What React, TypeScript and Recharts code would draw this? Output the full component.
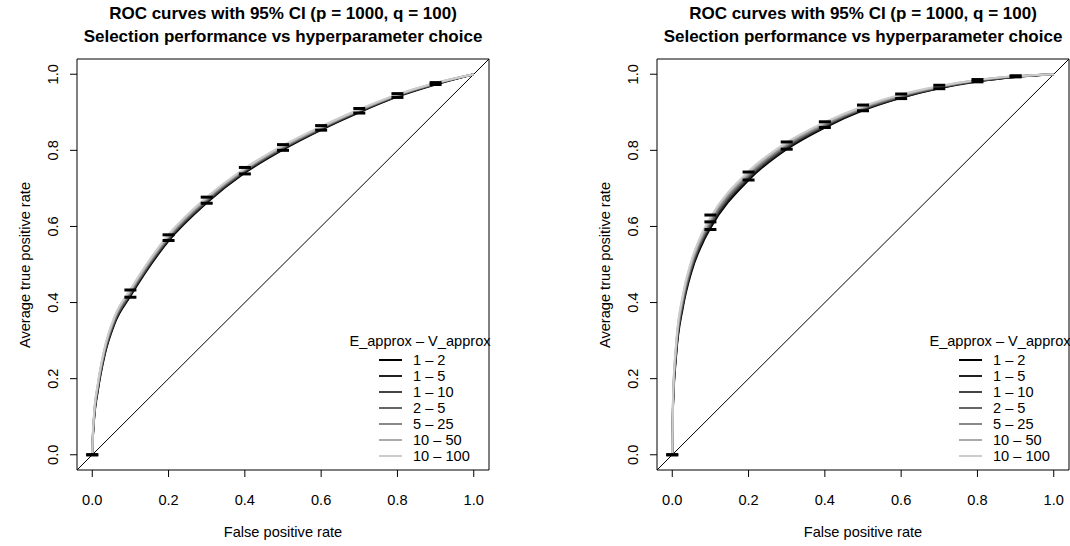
import React from 'react';
import {
  ComposedChart,
  Line,
  Scatter,
  XAxis,
  YAxis,
  ReferenceLine,
  ReferenceArea,
  Legend,
} from 'recharts';

// false positive rate grid for each panel
const fprLeft = [0, 0.001, 0.004, 0.015, 0.032, 0.059, 0.1, 0.2, 0.3, 0.4, 0.5, 0.6, 0.7, 0.8, 0.9, 1];
const fprRight = [0, 0.002, 0.01, 0.028, 0.05, 0.084, 0.1, 0.2, 0.3, 0.4, 0.5, 0.6, 0.7, 0.8, 0.9, 1];

// left panel: average TPR per E_approx - V_approx setting
const left_1_2 = [0, 0.030, 0.082, 0.170, 0.260, 0.346, 0.417, 0.562, 0.662, 0.741, 0.802, 0.854, 0.900, 0.941, 0.973, 1];
const left_1_5 = [0, 0.032, 0.085, 0.173, 0.263, 0.349, 0.420, 0.565, 0.664, 0.743, 0.804, 0.855, 0.901, 0.942, 0.974, 1];
const left_1_10 = [0, 0.034, 0.088, 0.177, 0.267, 0.352, 0.423, 0.568, 0.667, 0.745, 0.806, 0.857, 0.903, 0.943, 0.975, 1];
const left_2_5 = [0, 0.035, 0.090, 0.180, 0.270, 0.355, 0.425, 0.570, 0.669, 0.747, 0.807, 0.858, 0.904, 0.944, 0.975, 1];
const left_5_25 = [0, 0.037, 0.093, 0.184, 0.274, 0.359, 0.429, 0.573, 0.672, 0.749, 0.809, 0.860, 0.905, 0.945, 0.976, 1];
const left_10_50 = [0, 0.039, 0.096, 0.187, 0.277, 0.362, 0.432, 0.576, 0.674, 0.751, 0.811, 0.861, 0.906, 0.946, 0.977, 1];
const left_10_100 = [0, 0.041, 0.099, 0.190, 0.280, 0.365, 0.435, 0.579, 0.677, 0.753, 0.813, 0.863, 0.908, 0.947, 0.977, 1];

// right panel
const right_1_2 = [0, 0.125, 0.258, 0.388, 0.480, 0.566, 0.596, 0.722, 0.803, 0.860, 0.905, 0.938, 0.963, 0.981, 0.993, 1];
const right_1_5 = [0, 0.130, 0.264, 0.394, 0.485, 0.571, 0.601, 0.726, 0.806, 0.862, 0.907, 0.939, 0.964, 0.982, 0.993, 1];
const right_1_10 = [0, 0.135, 0.270, 0.400, 0.490, 0.576, 0.606, 0.730, 0.809, 0.865, 0.909, 0.941, 0.965, 0.982, 0.994, 1];
const right_2_5 = [0, 0.140, 0.275, 0.405, 0.495, 0.580, 0.610, 0.733, 0.812, 0.867, 0.910, 0.942, 0.966, 0.983, 0.994, 1];
const right_5_25 = [0, 0.145, 0.281, 0.411, 0.500, 0.585, 0.615, 0.737, 0.815, 0.869, 0.912, 0.944, 0.967, 0.984, 0.995, 1];
const right_10_50 = [0, 0.150, 0.287, 0.417, 0.505, 0.590, 0.620, 0.741, 0.818, 0.872, 0.914, 0.945, 0.968, 0.985, 0.995, 1];
const right_10_100 = [0, 0.155, 0.292, 0.422, 0.510, 0.595, 0.624, 0.745, 0.821, 0.874, 0.916, 0.947, 0.969, 0.985, 0.995, 1];

// 95% CI bounds
const ciX = [0, 0.1, 0.2, 0.3, 0.4, 0.5, 0.6, 0.7, 0.8, 0.9];
const ciUpperLeft = [0, 0.433, 0.578, 0.677, 0.755, 0.815, 0.865, 0.910, 0.949, 0.978];
const ciLowerLeft = [0, 0.414, 0.563, 0.661, 0.738, 0.800, 0.853, 0.898, 0.939, 0.973];
const ciUpperRight = [0, 0.630, 0.743, 0.822, 0.875, 0.919, 0.948, 0.971, 0.986, 0.996];
const ciLowerRight = [0, 0.592, 0.722, 0.803, 0.860, 0.904, 0.936, 0.962, 0.980, 0.993];
const ciExtraRight = [{ x: 0.1, y: 0.612 }];

const seriesNames = ['1 – 2', '1 – 5', '1 – 10', '2 – 5', '5 – 25', '10 – 50', '10 – 100'];
const seriesColors = ['#000000', '#222222', '#444444', '#666666', '#888888', '#AAAAAA', '#CCCCCC'];
const axisTicks = [0, 0.2, 0.4, 0.6, 0.8, 1];

const FONT = '"Liberation Sans", Arial, Helvetica, sans-serif';
const FS = 14.6;
const W = 535;
const H = 546;
const TOP = 59;
const BOTTOM = 76;
const PLOT = 412;

function buildRows(grid: number[], curves: number[][]) {
  return grid.map((x, i) => {
    const row: any = { x };
    curves.forEach((c, k) => {
      row['s' + k] = c[i];
    });
    return row;
  });
}

function buildCi(upper: number[], lower: number[], extra: { x: number; y: number }[]) {
  const pts: { x: number; y: number }[] = [];
  ciX.forEach((x, i) => {
    pts.push({ x, y: upper[i] });
    pts.push({ x, y: lower[i] });
  });
  return pts.concat(extra);
}

const Dash = (props: any) => {
  const { cx, cy } = props;
  if (cx == null || cy == null) return null;
  return <line x1={cx - 6} x2={cx + 6} y1={cy} y2={cy} stroke="#000" strokeWidth={3} />;
};

const YTick = (props: any) => {
  const { x, y, payload } = props;
  return (
    <text
      x={x}
      y={y}
      transform={`rotate(-90 ${x} ${y})`}
      textAnchor="middle"
      fontSize={FS}
      fill="#000"
    >
      {Number(payload.value).toFixed(1)}
    </text>
  );
};

const LegendBox = () => (
  <div style={{ fontFamily: FONT, fontSize: FS, color: '#000', width: 150 }}>
    <div style={{ textAlign: 'center', height: 19, lineHeight: '16px', whiteSpace: 'nowrap' }}>
      E_approx – V_approx
    </div>
    {seriesNames.map((name, i) => (
      <div key={name} style={{ display: 'flex', alignItems: 'center', height: 16 }}>
        <div style={{ width: 34 }} />
        <div style={{ width: 23, height: 2, background: seriesColors[i] }} />
        <div style={{ marginLeft: 11, lineHeight: '16px' }}>{name}</div>
      </div>
    ))}
  </div>
);

interface PanelProps {
  grid: number[];
  curves: number[][];
  upper: number[];
  lower: number[];
  extra: { x: number; y: number }[];
  plotLeft: number;
}

function Panel({ grid, curves, upper, lower, extra, plotLeft }: PanelProps) {
  const rows = buildRows(grid, curves);
  const ci = buildCi(upper, lower, extra);
  const plotCenterY = TOP + PLOT / 2;
  return (
    <div style={{ position: 'relative', width: W, height: H, fontFamily: FONT }}>
      <div
        style={{
          position: 'absolute',
          left: plotLeft - 80,
          width: PLOT + 160,
          top: 2,
          textAlign: 'center',
          fontWeight: 'bold',
          fontSize: 17,
          lineHeight: '23px',
          color: '#000',
          whiteSpace: 'nowrap',
        }}
      >
        ROC curves with 95% CI (p = 1000, q = 100)
        <br />
        Selection performance vs hyperparameter choice
      </div>
      <ComposedChart
        width={W}
        height={H}
        data={rows}
        margin={{ top: TOP, bottom: BOTTOM - 1, left: plotLeft - 1, right: W - plotLeft - PLOT }}
      >
        <XAxis
          type="number"
          dataKey="x"
          domain={[-0.04, 1.04]}
          ticks={axisTicks}
          allowDataOverflow
          height={1}
          axisLine={false}
          tickSize={7}
          tickMargin={18}
          tickLine={{ stroke: '#000' }}
          tick={{ fontSize: FS, fill: '#000' }}
          tickFormatter={(v: number) => v.toFixed(1)}
        />
        <YAxis
          type="number"
          domain={[-0.04, 1.04]}
          ticks={axisTicks}
          allowDataOverflow
          width={1}
          axisLine={false}
          tickSize={7}
          tickMargin={12}
          tickLine={{ stroke: '#000' }}
          tick={<YTick />}
        />
        <ReferenceArea x1={-0.04} x2={1.04} y1={-0.04} y2={1.04} fill="none" stroke="#000" strokeWidth={1} />
        <ReferenceLine
          segment={[
            { x: -0.04, y: -0.04 },
            { x: 1.04, y: 1.04 },
          ]}
          stroke="#000"
          strokeWidth={1}
        />
        {curves.map((_, k) => (
          <Line
            key={k}
            type="monotone"
            dataKey={'s' + k}
            name={seriesNames[k]}
            stroke={seriesColors[k]}
            strokeWidth={2}
            dot={false}
            activeDot={false}
            isAnimationActive={false}
          />
        ))}
        <Scatter data={ci} dataKey="y" shape={<Dash />} isAnimationActive={false} legendType="none" />
        <Legend
          layout="horizontal"
          verticalAlign="middle"
          align="center"
          content={<LegendBox />}
          wrapperStyle={{ left: plotLeft + 268, top: 333, width: 150 }}
        />
      </ComposedChart>
      <div
        style={{
          position: 'absolute',
          left: plotLeft,
          width: PLOT,
          top: 523,
          textAlign: 'center',
          fontSize: FS,
          lineHeight: '18px',
          color: '#000',
        }}
      >
        False positive rate
      </div>
      <div
        style={{
          position: 'absolute',
          left: plotLeft - 52 - 150,
          width: 300,
          top: plotCenterY - 9,
          height: 18,
          textAlign: 'center',
          fontSize: FS,
          lineHeight: '18px',
          color: '#000',
          transform: 'rotate(-90deg)',
        }}
      >
        Average true positive rate
      </div>
    </div>
  );
}

export default function App() {
  return (
    <div style={{ position: 'absolute', left: 0, top: 0, width: 1070, height: 546, display: 'flex', background: '#fff' }}>
      <Panel
        grid={fprLeft}
        curves={[left_1_2, left_1_5, left_1_10, left_2_5, left_5_25, left_10_50, left_10_100]}
        upper={ciUpperLeft}
        lower={ciLowerLeft}
        extra={[]}
        plotLeft={77}
      />
      <Panel
        grid={fprRight}
        curves={[right_1_2, right_1_5, right_1_10, right_2_5, right_5_25, right_10_50, right_10_100]}
        upper={ciUpperRight}
        lower={ciLowerRight}
        extra={ciExtraRight}
        plotLeft={122}
      />
    </div>
  );
}
